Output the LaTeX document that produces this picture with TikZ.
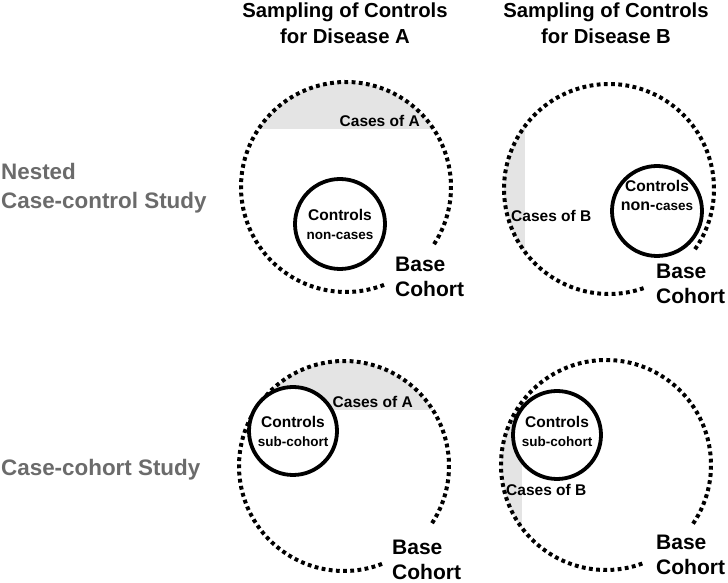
\documentclass[tikz,border=0pt]{standalone}
\usepackage{fontspec}
\setmainfont{Liberation Sans}
\usetikzlibrary{positioning}
\definecolor{rowgray}{HTML}{6B6B6B}
\definecolor{casegray}{HTML}{E4E4E4}
\tikzstyle{cohort} = [line width=4pt, dash pattern=on 3.8pt off 3.4pt]
\tikzstyle{ctrlring} = [circle, draw=black, line width=3.8pt, fill=white, inner sep=0pt]
\tikzstyle{ctrltext} = [align=center, inner sep=0pt, font=\bfseries\fontsize{15.5}{19}\selectfont]
\tikzstyle{casetext} = [inner sep=0pt, font=\bfseries\fontsize{15.5}{19}\selectfont]
\tikzstyle{basetext} = [align=left, anchor=west, inner sep=0pt, font=\bfseries\fontsize{21}{25}\selectfont]
\tikzstyle{headtext} = [align=center, inner sep=0pt, font=\bfseries\fontsize{20.3}{26}\selectfont]
\tikzstyle{rowlabel} = [align=left, anchor=west, inner sep=0pt, text=rowgray, font=\bfseries\fontsize{22.4}{29}\selectfont]
\newcommand{\smallnote}[1]{{\fontsize{13.5}{17}\selectfont #1}}

\begin{document}
\begin{tikzpicture}[x=1pt, y=1pt]
\useasboundingbox (0,0) rectangle (728,583);

\node[headtext] (headA) at (345,560) {Sampling of Controls\\for Disease A};
\node[headtext] (headB) at (606,560) {Sampling of Controls\\for Disease B};
\node[rowlabel] (nested) at (1,395) {Nested\\Case-control Study};
\node[rowlabel] (caseco) at (1,113) {Case-cohort Study};

\coordinate (cohortA1) at (346,396);
\coordinate (cohortB1) at (609,394);
\coordinate (cohortA2) at (344,117);
\coordinate (cohortB2) at (606,118);

\begin{scope}
\clip (cohortA1) circle[radius=105pt];
\fill[casegray] ([shift={(-110,58)}]cohortA1) rectangle ([shift={(110,110)}]cohortA1);
\end{scope}
\begin{scope}
\clip (cohortB1) circle[radius=105pt];
\fill[casegray] ([shift={(-110,-110)}]cohortB1) rectangle ([shift={(-84,110)}]cohortB1);
\end{scope}
\begin{scope}
\clip (cohortA2) circle[radius=105pt];
\fill[casegray] ([shift={(-110,56)}]cohortA2) rectangle ([shift={(110,110)}]cohortA2);
\end{scope}
\begin{scope}
\clip (cohortB2) circle[radius=105pt];
\fill[casegray] ([shift={(-110,-110)}]cohortB2) rectangle ([shift={(-84,110)}]cohortB2);
\end{scope}

\draw[cohort] ([shift={(-33:105pt)}]cohortA1) arc[start angle=-33, end angle=292, radius=105pt];
\draw[cohort] ([shift={(-35:105pt)}]cohortB1) arc[start angle=-35, end angle=290, radius=105pt];
\draw[cohort] ([shift={(-33:105pt)}]cohortA2) arc[start angle=-33, end angle=292, radius=105pt];
\draw[cohort] ([shift={(-34:105pt)}]cohortB2) arc[start angle=-34, end angle=291, radius=105pt];

\node[casetext, anchor=east] (casesA1) at (420,462) {Cases of A};
\node[casetext, anchor=west] (casesB1) at (511,367) {Cases of B};
\node[casetext, anchor=east] (casesA2) at (413,181) {Cases of A};
\node[casetext, anchor=west] (casesB2) at (506,93) {Cases of B};

\node[ctrlring, minimum size=90pt] (ctrlA1) at (340,359) {};
\node[ctrlring, minimum size=90pt] (ctrlB1) at (657,372) {};
\node[ctrlring, minimum size=88pt] (ctrlA2) at (293,152) {};
\node[ctrlring, minimum size=88pt] (ctrlB2) at (557,148) {};

\node[ctrltext] (ctrltxtA1) at (ctrlA1) {Controls\\\smallnote{non-cases}};
\node[ctrltext] (ctrltxtB1) at ([yshift=16pt]ctrlB1.center) {Controls\\{\fontsize{16}{19}\selectfont non-}\smallnote{cases}};
\node[ctrltext] (ctrltxtA2) at (ctrlA2) {Controls\\\smallnote{sub-cohort}};
\node[ctrltext] (ctrltxtB2) at ([yshift=4pt]ctrlB2.center) {Controls\\\smallnote{sub-cohort}};

\node[basetext] (baseA1) at (395,306) {Base\\Cohort};
\node[basetext] (baseB1) at (656,299) {Base\\Cohort};
\node[basetext] (baseA2) at (392,23) {Base\\Cohort};
\node[basetext] (baseB2) at (656,28) {Base\\Cohort};
\end{tikzpicture}
\end{document}
